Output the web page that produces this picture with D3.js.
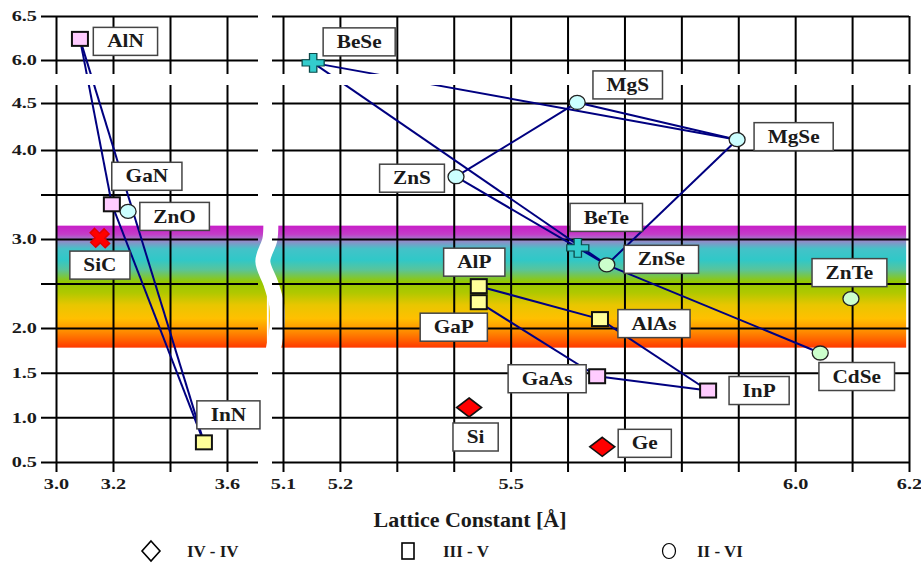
<!DOCTYPE html>
<html><head><meta charset="utf-8">
<script src="https://cdn.jsdelivr.net/npm/d3@7"></script>
<style>body{margin:0;background:#fff}svg{display:block}</style>
</head><body>
<svg id="chart" width="921" height="563"></svg>
<script>
// ---------------- data ----------------
const materials    = ["AlN","GaN","ZnO","SiC","InN","BeSe","MgS","MgSe","ZnS","BeTe","ZnSe","ZnTe","CdSe","AlP","GaP","AlAs","GaAs","InP","Si","Ge"];
const latticeConst = [3.084,3.196,3.253,3.154,3.519,5.153,5.617,5.898,5.404,5.618,5.669,6.098,6.044,5.444,5.444,5.657,5.652,5.847,5.427,5.661];
const bandGap      = [6.24,3.39,3.31,3.01,0.72,5.90,4.52,4.11,3.70,2.90,2.71,2.33,1.72,2.47,2.29,2.10,1.46,1.30,1.11,0.67];
const groupOf      = ["III-V","III-V","II-VI","IV-IV","III-V","II-VI","II-VI","II-VI","II-VI","II-VI","II-VI","II-VI","II-VI","III-V","III-V","III-V","III-V","III-V","IV-IV","IV-IV"];
const connections  = [["AlN","GaN"],["GaN","InN"],["AlN","InN"],["BeSe","MgSe"],["BeSe","ZnSe"],["ZnS","MgS"],["MgS","MgSe"],["ZnS","ZnSe"],["MgSe","ZnSe"],["ZnSe","CdSe"],["AlP","AlAs"],["GaP","GaAs"],["GaAs","InP"],["AlAs","InP"]];
const yGridValues  = [0.5,1.0,1.5,2.0,2.5,3.0,3.5,4.0,4.5,6.0,6.5];
const yTickLabels  = [0.5,1.0,1.5,2.0,3.0,4.0,4.5,6.0,6.5];
const xLeftGrid    = [3.0,3.2,3.4,3.6];
const xLeftLabels  = [3.0,3.2,3.6];
const xRightGrid   = [5.1,5.2,5.3,5.4,5.5,5.6,5.7,5.8,5.9,6.0,6.1,6.2];
const xRightLabels = [5.1,5.2,5.5,6.0,6.2];
const visibleBand  = [1.78,3.15];
const legendItems  = ["IV - IV","III - V","II - VI"];
const xTitle = "Lattice Constant [Å]";

// ---------------- styles / layout ----------------
const markerStyle = {
  AlN:["square","#ffccff"], GaN:["square","#ffccff"], GaAs:["square","#ffccff"], InP:["square","#ffccff"],
  InN:["square","#ffff99"], AlP:["square","#ffff99"], GaP:["square","#ffff99"], AlAs:["square","#ffff99"],
  ZnO:["circle","#ccffff"], MgS:["circle","#ccffff"], MgSe:["circle","#ccffff"], ZnS:["circle","#ccffff"],
  ZnSe:["circle","#ccffcc"], ZnTe:["circle","#ccffcc"], CdSe:["circle","#ccffcc"],
  BeSe:["plus","#33cccc"], BeTe:["plus","#33cccc"],
  SiC:["x","#ff0000"], Si:["diamond","#ff0000"], Ge:["diamond","#ff0000"]
};
const labelOffset = {
  AlN:[45.5,2.5], GaN:[35,-28], ZnO:[46.5,5], SiC:[0,27], InN:[24.5,-27.5],
  BeSe:[46,-21], MgS:[50.5,-17.5], MgSe:[56.5,-3], ZnS:[-44,1.5], BeTe:[28.5,-30.5],
  ZnSe:[54.5,-5.5], ZnTe:[-1.5,-26], CdSe:[36.5,23.5], AlP:[-4.5,-24], GaP:[-25,25],
  AlAs:[54,4.5], GaAs:[-50,2.5], InP:[51,0], Si:[6.5,29.5], Ge:[42.5,-3.5]
};
const FONT = "'Liberation Serif','Times New Roman',serif";

const svg = d3.select("#chart");
const xL = d3.scaleLinear().domain([3.0,3.6]).range([56,227]);
const xR = d3.scaleLinear().domain([5.1,6.2]).range([283,909]);
const xPos = v => v < 4.5 ? xL(v) : xR(v);
const y = d3.scaleLinear().domain([0.5,2.0,3.0,4.0,4.5,6.0,6.5]).range([462,328,239,150,103,60,16]);

const pts = materials.map((m,i)=>({name:m, a:latticeConst[i], e:bandGap[i], g:groupOf[i]}));
const byName = Object.fromEntries(pts.map(p=>[p.name,p]));

// ---------------- colour band ----------------
const defs = svg.append("defs");
const grad = defs.append("linearGradient").attr("id","vis").attr("x1",0).attr("x2",0).attr("y1",0).attr("y2",1);
[[0,"#c81ec8"],[0.07,"#c43cc8"],[0.12,"#9c84c8"],[0.19,"#44c2c8"],[0.28,"#30c8c8"],[0.36,"#58c49c"],
 [0.46,"#94c800"],[0.55,"#b0c800"],[0.65,"#e8c600"],[0.76,"#ffc000"],[0.86,"#ff9000"],[0.94,"#ff6000"],[1,"#ff3800"]]
 .forEach(([o,c])=>grad.append("stop").attr("offset",o).attr("stop-color",c));

const bandTop = y(visibleBand[1]), bandBot = y(visibleBand[0]);
svg.append("rect").attr("x",xL(3.0)).attr("y",bandTop).attr("width",xL(3.74)-xL(3.0)).attr("height",bandBot-bandTop).attr("fill","url(#vis)");
svg.append("rect").attr("x",xR(5.075)).attr("y",bandTop).attr("width",xR(6.195)-xR(5.075)).attr("height",bandBot-bandTop).attr("fill","url(#vis)");
// wavy break
const bx = (xL(3.74)+xR(5.075))/2;
const wave = [[bx+3,bandTop-4],[bx+2,bandTop+14],[bx-5,y(2.75)],[bx+3,y(2.5)],[bx+9,y(2.25)],[bx+9,y(2.0)],[bx+5,bandBot+4]];
svg.append("path").attr("d",d3.line().curve(d3.curveCatmullRom)(wave))
  .attr("fill","none").attr("stroke","#fff").attr("stroke-width",15);

// ---------------- grid via axes ----------------
const gridStyle = g => { g.select(".domain").remove(); g.selectAll(".tick line").attr("stroke","#000").attr("stroke-width",2);
  g.selectAll("text").attr("font-family",FONT).attr("font-weight","bold").attr("font-size",15).attr("fill","#1a1a1a"); };

svg.append("g").attr("transform","translate(0,472)")
  .call(d3.axisBottom(xL).tickValues(xLeftGrid).tickSizeInner(-(472-16)).tickSizeOuter(0).tickPadding(6)
    .tickFormat(d => xLeftLabels.includes(d) ? d.toFixed(1) : ""))
  .call(gridStyle).call(g=>g.selectAll("text").attr("transform","scale(1.35,1)"));
svg.append("g").attr("transform","translate(0,472)")
  .call(d3.axisBottom(xR).tickValues(xRightGrid).tickSizeInner(-(472-16)).tickSizeOuter(0).tickPadding(6)
    .tickFormat(d => xRightLabels.includes(d) ? d.toFixed(1) : ""))
  .call(gridStyle).call(g=>g.selectAll("text").each(function(){
      const t=d3.select(this); t.attr("transform","scale(1.35,1)"); }));
svg.append("g").attr("transform","translate(41,0)")
  .call(d3.axisLeft(y).tickValues(yGridValues).tickSizeInner(-(258-41)).tickSizeOuter(0).tickPadding(3)
    .tickFormat(d => yTickLabels.includes(d) ? d.toFixed(1) : ""))
  .call(gridStyle).call(g=>g.selectAll("text").attr("transform","scale(1.35,1)"));
svg.append("g").attr("transform","translate(272,0)")
  .call(d3.axisLeft(y).tickValues(yGridValues).tickSizeInner(-(909-272)).tickSizeOuter(0).tickFormat(""))
  .call(gridStyle);

// ---------------- connecting lines ----------------
svg.append("g").selectAll("line").data(connections).join("line")
  .attr("x1",d=>xPos(byName[d[0]].a)).attr("y1",d=>y(byName[d[0]].e))
  .attr("x2",d=>xPos(byName[d[1]].a)).attr("y2",d=>y(byName[d[1]].e))
  .attr("stroke","#000080").attr("stroke-width",2);

// y-axis break
svg.append("rect").attr("x",30).attr("y",74).attr("width",890).attr("height",11).attr("fill","#fff");

// ---------------- markers ----------------
function drawMarker(g, kind, fill){
  if(kind==="square") g.append("rect").attr("x",-8).attr("y",-7).attr("width",16).attr("height",14).attr("fill",fill).attr("stroke","#111").attr("stroke-width",2);
  else if(kind==="circle") g.append("ellipse").attr("rx",8).attr("ry",7).attr("fill",fill).attr("stroke","#222").attr("stroke-width",1.3);
  else if(kind==="plus") g.append("path").attr("d",d3.symbol(d3.symbolCross).size(270)()).attr("transform","scale(1,0.85)").attr("fill",fill).attr("stroke","#0b4a4a").attr("stroke-width",1.3);
  else if(kind==="x") g.append("path").attr("d",d3.symbol(d3.symbolCross).size(250)()).attr("transform","rotate(45) scale(1,0.9)").attr("fill",fill).attr("stroke","#e00000").attr("stroke-width",1.5).attr("stroke-linejoin","miter");
  else if(kind==="diamond") g.append("path").attr("d","M0,-9.5L12.5,0L0,9.5L-12.5,0Z").attr("fill",fill).attr("stroke","#111").attr("stroke-width",1.6);
}
const mk = svg.append("g").selectAll("g").data(pts).join("g").attr("transform",d=>`translate(${xPos(d.a)},${y(d.e)})`);
mk.each(function(d){ const s=markerStyle[d.name]; drawMarker(d3.select(this), s[0], s[1]); });

// ---------------- labels ----------------
const lab = svg.append("g").selectAll("g").data(pts).join("g")
  .attr("transform",d=>`translate(${xPos(d.a)+labelOffset[d.name][0]},${y(d.e)+labelOffset[d.name][1]})`);
lab.each(function(d){
  const g=d3.select(this);
  const r=g.append("rect").attr("fill","#fff").attr("stroke","#444").attr("stroke-width",1.5);
  const t=g.append("text").text(d.name).attr("text-anchor","middle").attr("dy","0.33em")
    .attr("font-family",FONT).attr("font-weight","bold").attr("font-size",18.5).attr("fill","#1a1a1a")
    .attr("transform","scale(1.15,1)");
  const w=t.node().getBBox().width*1.15+27;
  r.attr("x",-w/2).attr("y",-14).attr("width",w).attr("height",28);
});

// ---------------- axis title ----------------
svg.append("text").attr("x",470).attr("y",527).attr("text-anchor","middle").text(xTitle)
  .attr("font-family",FONT).attr("font-weight","bold").attr("font-size",22).attr("fill","#1a1a1a");

// ---------------- legend ----------------
const legX = [[151,187],[408,443],[669,697]];
const legShapes = ["diamond","square","circle"];
legendItems.forEach((txt,i)=>{
  const g=svg.append("g").attr("transform",`translate(${legX[i][0]},551)`);
  if(legShapes[i]==="diamond") g.append("path").attr("d","M0,-10L9,0L0,10L-9,0Z").attr("fill","#fff").attr("stroke","#000").attr("stroke-width",1.6);
  if(legShapes[i]==="square") g.append("rect").attr("x",-6).attr("y",-8).attr("width",12).attr("height",16).attr("fill","#fff").attr("stroke","#000").attr("stroke-width",1.6);
  if(legShapes[i]==="circle") g.append("ellipse").attr("rx",6.5).attr("ry",7.5).attr("fill","#fff").attr("stroke","#000").attr("stroke-width",1.2);
  svg.append("text").attr("x",legX[i][1]).attr("y",557).text(txt)
    .attr("font-family",FONT).attr("font-weight","bold").attr("font-size",17).attr("fill","#1a1a1a");
});
</script>
</body></html>
